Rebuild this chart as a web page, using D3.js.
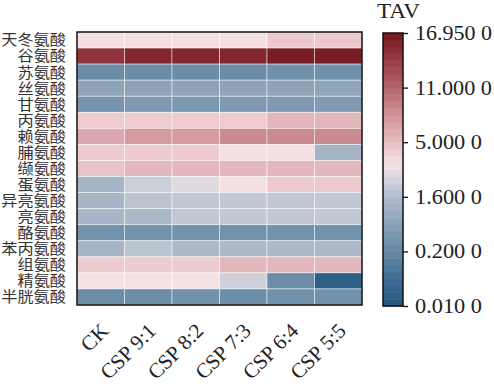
<!doctype html>
<html lang="en">
<head>
  <meta charset="utf-8">
  <script src="https://cdn.jsdelivr.net/npm/d3@7"></script>
</head>

<style>
    body {
        margin: 0;
        background-color: white;
    }
</style>

<body>
<script>

    // amino acids (rows) and treatments (columns)
    let rows = ['天冬氨酸', '谷氨酸', '苏氨酸', '丝氨酸', '甘氨酸', '丙氨酸', '赖氨酸', '脯氨酸',
                '缬氨酸', '蛋氨酸', '异亮氨酸', '亮氨酸', '酪氨酸', '苯丙氨酸', '组氨酸', '精氨酸', '半胱氨酸']
    let cols = ['CK', 'CSP 9:1', 'CSP 8:2', 'CSP 7:3', 'CSP 6:4', 'CSP 5:5']

    // TAV values, one array per row
    let tav = [
        [3.8, 3.8, 3.8, 3.8, 4.6, 4.6],
        [14.6, 15.8, 15.8, 15.8, 16.7, 16.7],
        [0.28, 0.28, 0.28, 0.28, 0.4, 0.4],
        [0.95, 0.95, 0.95, 0.95, 0.95, 0.97],
        [0.5, 0.65, 0.62, 0.65, 0.65, 0.7],
        [4.5, 4.5, 4.5, 4.5, 5.5, 5.5],
        [6.5, 7.4, 7.4, 8.6, 8.6, 8.6],
        [4.5, 4.5, 4.5, 3.7, 3.7, 1.4],
        [4.8, 5.4, 5.4, 5.4, 5.4, 5.4],
        [1.4, 2.4, 3.0, 3.8, 4.6, 4.6],
        [1.45, 1.9, 2.1, 2.1, 2.1, 2.1],
        [1.45, 1.5, 2.1, 2.1, 2.1, 2.1],
        [0.44, 0.44, 0.44, 0.44, 0.44, 0.44],
        [1.4, 1.9, 1.5, 1.5, 1.5, 1.5],
        [4.5, 4.5, 4.5, 5.4, 5.4, 5.4],
        [3.6, 3.6, 3.6, 2.5, 0.3, 0.045],
        [0.3, 0.3, 0.42, 0.3, 0.4, 0.4]
    ]

    // colour bar ticks (equally spaced on the bar)
    let barTicks = [0.01, 0.2, 1.6, 5, 11, 16.95]
    let barLabels = ['0.010 0', '0.200 0', '1.600 0', '5.000 0', '11.000 0', '16.950 0']

    let rampPos = [0, 0.1, 0.2, 0.3, 0.4, 0.47, 0.52, 0.6, 0.7, 0.8, 0.9, 1]
    let rampCol = ['#235781', '#3f6d92', '#6789a5', '#8aa2b8', '#b1bccb', '#d6d7df',
                   '#f6e3e5', '#e6bec1', '#cf9399', '#b4646c', '#973c44', '#761a22']

    let W = 494, H = 387
    let mLeft = 77, mRight = 362, mTop = 32, mBottom = 305
    let serif = '"Liberation Serif", "Times New Roman", serif'

    // stretch a text horizontally so it spans the wanted width
    let fitWidth = (sel, want, x0, y0) => {
        sel.each(function(d, i) {
            let w = this.getComputedTextLength()
            let s = want(d, i) / w
            d3.select(this)
                .attr('x', 0).attr('y', 0)
                .attr('transform', 'translate(' + x0(d, i) + ',' + y0(d, i) + ') scale(' + s + ',1)')
        })
    }

    let svg = d3.select('body').append('svg')
        .attr('width', W)
        .attr('height', H)

    let x = d3.scaleBand().domain(cols).range([mLeft, mRight])
    let y = d3.scaleBand().domain(rows).range([mTop, mBottom])

    // value -> position on bar (0..1), piecewise
    let pos = d3.scaleLinear().domain(barTicks).range(d3.range(barTicks.length).map(i => i / (barTicks.length - 1))).clamp(true)
    let ramp = d3.scaleLinear().domain(rampPos).range(rampCol).interpolate(d3.interpolateRgb)
    let color = v => ramp(pos(v))

    let cells = []
    rows.forEach((r, i) => cols.forEach((c, j) => cells.push({row: r, col: c, v: tav[i][j]})))

    svg.append('g').selectAll('rect')
        .data(cells)
        .join('rect')
        .attr('x', d => x(d.col))
        .attr('y', d => y(d.row))
        .attr('width', x.bandwidth())
        .attr('height', y.bandwidth())
        .attr('fill', d => color(d.v))
        .attr('stroke', 'white')
        .attr('stroke-opacity', 0.6)
        .attr('stroke-width', 0.8)

    svg.append('rect')
        .attr('x', mLeft).attr('y', mTop)
        .attr('width', mRight - mLeft).attr('height', mBottom - mTop)
        .attr('fill', 'none').attr('stroke', '#111').attr('stroke-width', 1.5)

    // row labels
    let rowText = svg.append('g').selectAll('text')
        .data(rows)
        .join('text')
        .attr('dy', '0.36em')
        .attr('text-anchor', 'end')
        .style('font-family', '"Noto Sans CJK SC", sans-serif')
        .style('font-size', '15px')
        .attr('fill', '#333')
        .text(d => d)
    fitWidth(rowText, d => d.length * 16.2, d => 66, d => y(d) + y.bandwidth() / 2)

    // column labels
    svg.append('g').selectAll('text')
        .data(cols)
        .join('text')
        .attr('transform', d => 'translate(' + (x(d) + x.bandwidth() / 2 + 9) + ',332) rotate(-45)')
        .attr('text-anchor', 'end')
        .style('font-family', serif)
        .style('font-size', '21px')
        .attr('fill', '#222')
        .text(d => d)

    // colour bar
    let bx = 383, bw = 20, by0 = 33, by1 = 306
    let nb = 40
    let barY = d3.scaleLinear().domain([0, 1]).range([by1, by0])
    svg.append('g').selectAll('rect')
        .data(d3.range(nb))
        .join('rect')
        .attr('x', bx)
        .attr('y', i => barY((i + 1) / nb))
        .attr('width', bw)
        .attr('height', (by1 - by0) / nb + 0.5)
        .attr('fill', i => ramp((i + 0.5) / nb))

    svg.append('rect')
        .attr('x', bx).attr('y', by0)
        .attr('width', bw).attr('height', by1 - by0)
        .attr('fill', 'none').attr('stroke', '#111').attr('stroke-width', 1.5)

    let barAxis = d3.axisRight(barY)
        .tickValues(barTicks.map(t => pos(t)))
        .tickFormat((d, i) => barLabels[i])
        .tickSize(5)
        .tickPadding(7)

    let ga = svg.append('g')
        .attr('transform', 'translate(' + (bx + bw) + ',0)')
        .call(barAxis)
    ga.select('.domain').remove()
    ga.selectAll('line').attr('stroke', '#111').attr('stroke-width', 1.3)
    let barText = ga.selectAll('text')
        .style('font-family', serif)
        .style('font-size', '20px')
        .attr('fill', '#222')
    fitWidth(barText, (d, i) => barLabels[i].length == 8 ? 77 : 67, d => 12, d => 0)

    let title = svg.append('text')
        .style('font-family', serif)
        .style('font-size', '20px')
        .attr('fill', '#222')
        .text('TAV')
    fitWidth(title, () => 43, () => 377, () => 18)

</script>
</body>
</html>
